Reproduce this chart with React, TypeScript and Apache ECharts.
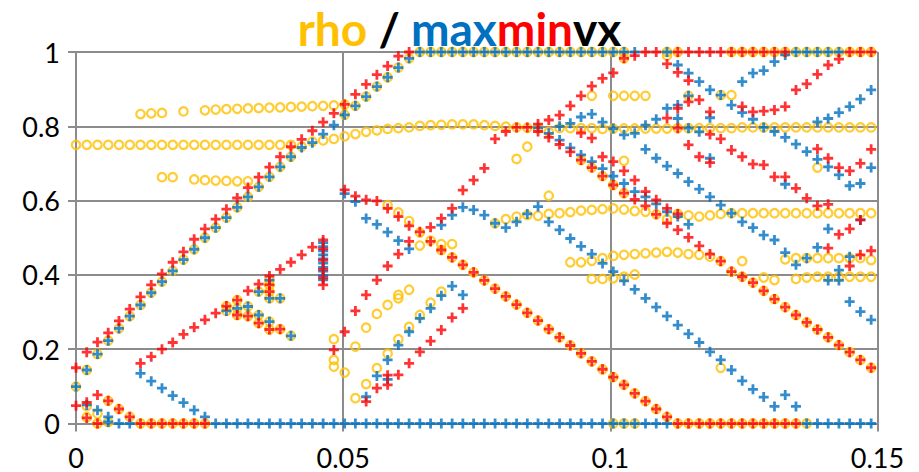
import React, { useEffect, useRef } from "react";
import * as echarts from "echarts";

const xs = [0, 0.00201, 0.00402, 0.00603, 0.00804, 0.01006, 0.01207, 0.01408, 0.01609, 0.0181, 0.02011, 0.02212, 0.02413, 0.02614, 0.02815, 0.03017, 0.03218, 0.03419, 0.0362, 0.03821, 0.04022, 0.04223, 0.04424, 0.04625, 0.04826, 0.05028, 0.05229, 0.0543, 0.05631, 0.05832, 0.06033, 0.06234, 0.06435, 0.06636, 0.06837, 0.07039, 0.0724, 0.07441, 0.07642, 0.07843, 0.08044, 0.08245, 0.08446, 0.08647, 0.08848, 0.0905, 0.09251, 0.09452, 0.09653, 0.09854, 0.10055, 0.10256, 0.10457, 0.10658, 0.10859, 0.11061, 0.11262, 0.11463, 0.11664, 0.11865, 0.12066, 0.12267, 0.12468, 0.12669, 0.1287, 0.13072, 0.13273, 0.13474, 0.13675, 0.13876, 0.14077, 0.14278, 0.14479, 0.1468, 0.14881];

// rho values at each x (column i)
const rhoCols: number[][] = [
  [0.099, 0.75],
  [0.144, 0.75, 0.047, 0.017],
  [0.187, 0.75, 0.026, 0],
  [0.223, 0.75, 0.061, 0.004],
  [0.256, 0.75, 0.039],
  [0.289, 0.75, 0.018],
  [0.319, 0.75, 0.833, 0],
  [0.352, 0.75, 0.835, 0],
  [0.382, 0.75, 0.836, 0.663, 0],
  [0.411, 0.75, 0.663, 0],
  [0.441, 0.75, 0.84, 0],
  [0.469, 0.75, 0.657, 0],
  [0.5, 0.75, 0.843, 0.655, 0],
  [0.527, 0.75, 0.845, 0.654],
  [0.554, 0.75, 0.846, 0.653, 0.316, 0.303],
  [0.582, 0.75, 0.847, 0.652, 0.332, 0.31, 0.292],
  [0.61, 0.75, 0.848, 0.652, 0.315, 0.289],
  [0.637, 0.75, 0.849, 0.355, 0.292, 0.27],
  [0.664, 0.75, 0.85, 0.386, 0.373, 0.355, 0.337, 0.274, 0.253],
  [0.691, 0.75, 0.851, 0.337, 0.254],
  [0.718, 0.75, 0.852, 0.236],
  [0.745, 0.853],
  [0.759, 0.854],
  [0.762, 0.855],
  [0.766, 0.856, 0.227, 0.171, 0.153],
  [0.773, 0.858, 0.831, 0.137],
  [0.779, 0.855, 0.207, 0.068],
  [0.785, 0.88, 0.258, 0.106],
  [0.789, 0.907, 0.295, 0.149],
  [0.793, 0.932, 0.588, 0.319, 0.188],
  [0.795, 0.958, 0.568, 0.346, 0.337, 0.227],
  [0.797, 0.983, 0.545, 0.36, 0.26],
  [0.801, 1, 0.514, 0.479, 0.292],
  [0.803, 1, 0.492, 0.325],
  [0.804, 1, 0.483, 0.467, 0.355],
  [0.805, 1, 0.483, 0.447],
  [0.805, 1, 0.427],
  [0.805, 1, 0.407],
  [0.803, 1, 0.385],
  [0.801, 1, 0.363, 0.539],
  [0.799, 1, 0.342, 0.55],
  [0.797, 1, 0.32, 0.557, 0.712],
  [0.796, 1, 0.298, 0.561, 0.745],
  [0.795, 1, 0.277, 0.559],
  [0.785, 1, 0.254, 0.564, 0.613],
  [0.795, 1, 0.232, 0.566],
  [0.795, 1, 0.21, 0.569, 0.434],
  [0.795, 1, 0.189, 0.573, 0.709, 0.434],
  [0.795, 1, 0.167, 0.575, 0.689, 0.882, 0.438, 0.389],
  [0.793, 1, 0.146, 0.577, 0.666, 0.445, 0.389],
  [0.794, 1, 0.125, 0.579, 0.642, 0.882, 0.451, 0.391, 0],
  [0.794, 1, 0.983, 0.104, 0.576, 0.62, 0.882, 0.707, 0.454, 0.395, 0],
  [0.794, 0.081, 0.572, 0.882, 0.456, 0.401, 0],
  [0.794, 0.06, 0.57, 0.882, 0.458],
  [0.794, 0.039, 0.563, 0.46],
  [1, 0.99, 0.794, 0.018, 0.55, 0.462],
  [1, 0.795, 0.564, 0.46, 0],
  [0.882, 0.795, 0.56, 0.456, 0],
  [0.795, 0.557, 0.454, 0],
  [0.795, 0.56, 0.449, 0],
  [0.884, 0.795, 0.564, 0.437, 0.15, 0],
  [1, 0.884, 0.795, 0.566, 0.409, 0],
  [1, 0.797, 0.566, 0.437, 0.395, 0],
  [1, 0.797, 0.566, 0.379, 0],
  [1, 0.797, 0.566, 0.357, 0.393, 0],
  [1, 0.797, 0.566, 0.335, 0.386, 0],
  [1, 0.797, 0.566, 0.442, 0.313, 0],
  [1, 0.797, 0.566, 0.445, 0.389, 0.292, 0],
  [1, 0.797, 0.566, 0.445, 0.393, 0.272, 0],
  [1, 0.797, 0.566, 0.689, 0.445, 0.395, 0.253],
  [1, 0.797, 0.566, 0.445, 0.395, 0.232],
  [1, 0.797, 0.566, 0.445, 0.395, 0.211],
  [1, 0.797, 0.566, 0.445, 0.395, 0.192],
  [1, 0.797, 0.566, 0.445, 0.395, 0.171],
  [1, 0.797, 0.566, 0.44, 0.395, 0.15],
];

// max values at each x
const maxCols: number[][] = [
  [0.099],
  [0.144, 0.05],
  [0.187, 0.036],
  [0.223, 0.018, 0.004],
  [0.256, 0],
  [0.289, 0],
  [0.319, 0.135],
  [0.352, 0.114],
  [0.382, 0.095],
  [0.411, 0.075],
  [0.441, 0.056],
  [0.469, 0.036],
  [0.5, 0.018],
  [0.527, 0],
  [0.554, 0.303, 0],
  [0.582, 0.31, 0],
  [0.61, 0.315, 0],
  [0.637, 0.355, 0.292, 0],
  [0.664, 0.386, 0.337, 0.274, 0],
  [0.691, 0.337, 0],
  [0.718, 0.236, 0],
  [0.743, 0],
  [0.756, 0],
  [0.779, 0.487, 0.476, 0.465, 0.454, 0.443, 0.432, 0.42, 0.41, 0.398, 0.387, 0],
  [0.803, 0],
  [0.831, 0.619, 0],
  [0.855, 0.597, 0],
  [0.88, 0.552, 0.072, 0],
  [0.907, 0.536, 0.128, 0],
  [0.932, 0.515, 0.171, 0.119, 0],
  [0.958, 0.492, 0.211, 0],
  [0.983, 0.47, 0.247, 0],
  [1, 0.283, 0],
  [1, 0.31, 0],
  [1, 0.534, 0.344, 0],
  [1, 0.561, 0.37, 0],
  [1, 0.582, 0.346, 0],
  [1, 0.575, 0],
  [1, 0.561, 0],
  [1, 0.539, 0],
  [1, 0.527, 0],
  [1, 0.543, 0],
  [1, 0.564, 0],
  [1, 0.796, 0.584, 0],
  [1, 0.781, 0.543, 0],
  [1, 0.8, 0.763, 0.521, 0],
  [1, 0.808, 0.742, 0.498, 0],
  [1, 0.825, 0.723, 0.477, 0],
  [1, 0.833, 0.705, 0.456, 0],
  [1, 0.811, 0.686, 0.431, 0],
  [1, 0.794, 0.666, 0.409, 0],
  [1, 0.777, 0.646, 0.384, 0],
  [1, 0.781, 0.624, 0.361, 0],
  [0.803, 0.738, 0.61, 0.337, 0],
  [0.819, 0.714, 0.591, 0.313, 0],
  [1, 0.848, 0.693, 0.57, 0.289, 0],
  [0.965, 0.857, 0.821, 0.673, 0.557, 0.265],
  [0.943, 0.882, 0.795, 0.651, 0.536, 0.241],
  [0.92, 0.785, 0.631, 0.218],
  [0.898, 0.823, 0.714, 0.61, 0.193],
  [0.884, 0.588, 0.171],
  [0.857, 0.566, 0.144],
  [0.92, 0.837, 0.543, 0.115],
  [0.943, 0.819, 0.527, 0.092],
  [0.95, 0.797, 0.507, 0.071],
  [0.974, 0.786, 0.494, 0.046],
  [0.992, 0.77, 0.644, 0.46, 0.077],
  [1, 0.752, 0.427, 0.046],
  [1, 0.732, 0.445, 0],
  [1, 0.812, 0.711, 0.474, 0],
  [1, 0.821, 0.691, 0.524, 0.385, 0],
  [1, 0.837, 0.669, 0.413, 0.385, 0],
  [0.853, 0.64, 0.449, 0.328, 0],
  [0.873, 0.646, 0.548, 0.301, 0],
  [0.898, 0.689, 0.279, 0],
];

// min values at each x
const minCols: number[][] = [
  [0.15, 0.048],
  [0.192, 0.057, 0.015],
  [0.219, 0.077, 0],
  [0.244, 0.061],
  [0.276, 0.039],
  [0.308, 0.018],
  [0.341, 0.162, 0],
  [0.373, 0.18, 0],
  [0.403, 0.2, 0],
  [0.434, 0.218, 0],
  [0.462, 0.24, 0],
  [0.496, 0.259, 0],
  [0.524, 0.279, 0],
  [0.55, 0.297],
  [0.577, 0.316],
  [0.607, 0.332, 0.292],
  [0.635, 0.357, 0.289],
  [0.663, 0.375, 0.27],
  [0.69, 0.397, 0.373, 0.355, 0.253],
  [0.718, 0.415, 0.254],
  [0.745, 0.434],
  [0.765, 0.454],
  [0.788, 0.475],
  [0.811, 0.494, 0.47, 0.44, 0.415, 0.392, 0.373],
  [0.835, 0.198],
  [0.859, 0.629, 0.247],
  [0.886, 0.612, 0.303],
  [0.913, 0.602, 0.346, 0.059],
  [0.939, 0.599, 0.386, 0.095],
  [0.962, 0.579, 0.424, 0.13, 0.104],
  [0.989, 0.557, 0.456, 0.131],
  [1, 0.532, 0.49, 0.162],
  [0.516, 0.193],
  [0.528, 0.49, 0.222],
  [0.552, 0.467, 0.252],
  [0.579, 0.447, 0.285],
  [0.628, 0.427, 0.31],
  [0.655, 0.407],
  [0.687, 0.385],
  [0.766, 0.363],
  [0.786, 0.342],
  [0.797, 0.32],
  [0.797, 0.298],
  [0.806, 0.786, 0.277],
  [0.817, 0.77, 0.254],
  [0.83, 0.751, 0.232],
  [0.855, 0.731, 0.21],
  [0.882, 0.782, 0.709, 0.189],
  [0.908, 0.768, 0.689, 0.167],
  [0.929, 0.718, 0.666, 0.146],
  [0.944, 0.705, 0.642, 0.125],
  [0.983, 0.68, 0.62, 0.104],
  [0.99, 0.655, 0.603, 0.081],
  [1, 0.624, 0.586, 0.06],
  [1, 0.602, 0.563, 0.039],
  [0.968, 0.822, 0.579, 0.539, 0.018],
  [1, 0.945, 0.848, 0.795, 0.564, 0.521, 0],
  [1, 0.923, 0.866, 0.75, 0.501, 0],
  [1, 0.871, 0.718, 0.478, 0],
  [1, 0.839, 0.778, 0.702, 0.456, 0],
  [1, 0.766, 0.437, 0],
  [1, 0.736, 0.409, 0],
  [1, 0.853, 0.718, 0.395, 0],
  [1, 0.839, 0.698, 0.379, 0],
  [1, 0.841, 0.696, 0.357, 0],
  [1, 0.844, 0.664, 0.335, 0],
  [1, 0.853, 0.664, 0.313, 0],
  [0.898, 0.633, 0.292, 0],
  [0.914, 0.606, 0.272],
  [0.94, 0.739, 0.586, 0.253],
  [0.965, 0.714, 0.59, 0.472, 0.232],
  [0.981, 0.689, 0.509, 0.211],
  [1, 0.68, 0.524, 0.424, 0.192],
  [1, 0.7, 0.548, 0.454, 0.171],
  [1, 0.738, 0.465, 0.15],
];

const xTicks = [0, 0.05, 0.1, 0.15];
const yTicks = [0, 0.2, 0.4, 0.6, 0.8, 1];

const RHO_COLOR = "#FFC000";
const MAX_COLOR = "#0070C0";
const MIN_COLOR = "#FF0000";
const GRID_COLOR = "#8C8C8C";
const PLUS = "path://M3.6,0H6.4V3.6H10V6.4H6.4V10H3.6V6.4H0V3.6H3.6Z";
const TITLE_SIZE = 46;

function toPoints(cols: number[][]): number[][] {
  const pts: number[][] = [];
  cols.forEach((col, i) => {
    col.forEach((v) => pts.push([xs[i], v]));
  });
  return pts;
}

function fmt(v: number): string {
  return String(parseFloat(v.toFixed(3)));
}

export default function App() {
  const ref = useRef<HTMLDivElement>(null);

  useEffect(() => {
    if (!ref.current) return;
    const chart = echarts.init(ref.current, undefined, { renderer: "svg" });
    const labelFont = {
      fontFamily: "Lato",
      fontSize: 27,
      color: "#000",
    };
    const titleStyle = (color: string) => ({
      color,
      fontFamily: "Lato",
      fontWeight: "bold",
      fontSize: TITLE_SIZE,
      lineHeight: TITLE_SIZE,
    });
    chart.setOption({
      animation: false,
      backgroundColor: "#ffffff",
      title: {
        left: "center",
        top: 5,
        padding: 0,
        text: "{r|rho} {k|/} {b|max}{m|min}{k|vx}",
        textStyle: {
          fontFamily: "Lato",
          fontWeight: "bold",
          fontSize: TITLE_SIZE,
          lineHeight: TITLE_SIZE,
          rich: {
            r: titleStyle(RHO_COLOR),
            k: titleStyle("#000"),
            b: titleStyle(MAX_COLOR),
            m: titleStyle(MIN_COLOR),
          },
        },
      },
      grid: { left: 76, right: 41.5, top: 52, bottom: 48.5 },
      xAxis: {
        type: "value",
        min: xTicks[0],
        max: xTicks[xTicks.length - 1],
        interval: 0.05,
        axisLine: { show: true, onZero: false, lineStyle: { color: GRID_COLOR, width: 2 } },
        axisTick: { show: true, length: 8, lineStyle: { color: GRID_COLOR, width: 2 } },
        splitLine: { show: true, lineStyle: { color: GRID_COLOR, width: 2 } },
        axisLabel: { ...labelFont, margin: 20, formatter: (v: number) => fmt(v) },
      },
      yAxis: {
        type: "value",
        min: yTicks[0],
        max: yTicks[yTicks.length - 1],
        interval: 0.2,
        axisLine: { show: true, onZero: false, lineStyle: { color: GRID_COLOR, width: 2 } },
        axisTick: { show: true, length: 8, lineStyle: { color: GRID_COLOR, width: 2 } },
        splitLine: { show: true, lineStyle: { color: GRID_COLOR, width: 2 } },
        axisLabel: { ...labelFont, margin: 16, formatter: (v: number) => fmt(v) },
      },
      series: [
        {
          name: "rho",
          type: "scatter",
          symbol: "circle",
          symbolSize: 8.5,
          itemStyle: { color: "rgba(255,255,255,0)", borderColor: RHO_COLOR, borderWidth: 2.2 },
          data: toPoints(rhoCols),
          z: 2,
        },
        {
          name: "max",
          type: "scatter",
          symbol: PLUS,
          symbolSize: 10,
          itemStyle: { color: MAX_COLOR },
          data: toPoints(maxCols),
          z: 3,
        },
        {
          name: "min",
          type: "scatter",
          symbol: PLUS,
          symbolSize: 10,
          itemStyle: { color: MIN_COLOR },
          data: toPoints(minCols),
          z: 4,
        },
      ],
    });
    return () => chart.dispose();
  }, []);

  return (
    <div
      ref={ref}
      style={{ position: "fixed", left: 0, top: 0, width: 919, height: 472, background: "#fff" }}
    />
  );
}
